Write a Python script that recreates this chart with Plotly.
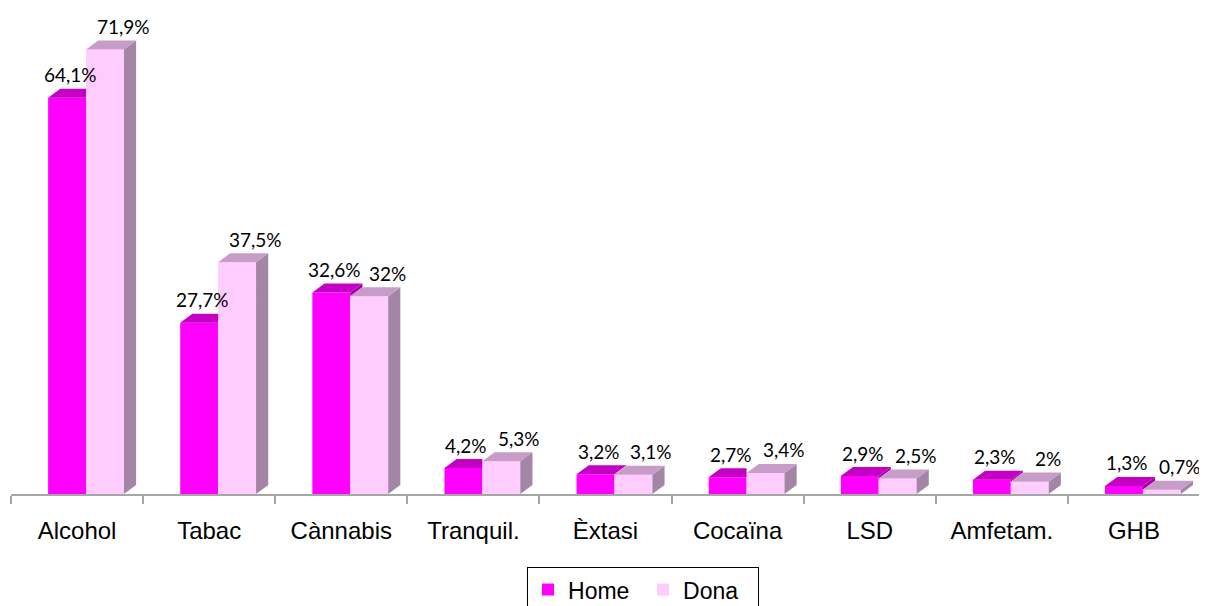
import plotly.graph_objects as go

categories = ["Alcohol", "Tabac", "Cànnabis", "Tranquil.", "Èxtasi", "Cocaïna", "LSD", "Amfetam.", "GHB"]
home = [64.1, 27.7, 32.6, 4.2, 3.2, 2.7, 2.9, 2.3, 1.3]
dona = [71.9, 37.5, 32.0, 5.3, 3.1, 3.4, 2.5, 2.0, 0.7]
series_names = ["Home", "Dona"]

# style / geometry constants
BAR_W = 0.287
HOME_OFF = -0.219
DONA_OFF = HOME_OFF + BAR_W
DX = 0.092   # pseudo-3D depth (category units)
DY = 1.46    # pseudo-3D depth (value units)

HOME_FRONT, HOME_TOP, HOME_SIDE = "#FF00FF", "#C400C4", "#A800A8"
DONA_FRONT, DONA_TOP, DONA_SIDE = "#FFCCFF", "#C89CC8", "#A585A5"

xs = list(range(len(categories)))


def fmt(v):
    return f"{v:g}".replace(".", ",") + "%"


# pseudo-3D faces, derived from the data (Home faces are partly hidden by Dona)
htx, hty, hsx, hsy = [], [], [], []
dtx, dty, dsx, dsy = [], [], [], []
for i, h, d in zip(xs, home, dona):
    x0 = i + HOME_OFF
    x1 = x0 + BAR_W
    x2 = x1 + BAR_W
    if d >= h:
        htx += [x0, x1, x1, x0 + DX, x0, None]
        hty += [h, h, h + DY, h + DY, h, None]
    else:
        htx += [x0, x1, x1 + DX, x0 + DX, x0, None]
        hty += [h, h, h + DY, h + DY, h, None]
        hsx += [x1, x1 + DX, x1 + DX, x1, x1, None]
        hsy += [d, d + DY, h + DY, h, d, None]
    dtx += [x1, x2, x2 + DX, x1 + DX, x1, None]
    dty += [d, d, d + DY, d + DY, d, None]
    dsx += [x2, x2 + DX, x2 + DX, x2, x2, None]
    dsy += [0, DY, d + DY, d, 0, None]

fig = go.Figure()

fig.add_trace(go.Bar(x=xs, y=home, name=series_names[0], width=BAR_W, offset=HOME_OFF,
                     marker=dict(color=HOME_FRONT, line=dict(width=0)), hoverinfo="skip"))
fig.add_trace(go.Bar(x=xs, y=dona, name=series_names[1], width=BAR_W, offset=DONA_OFF,
                     marker=dict(color=DONA_FRONT, line=dict(width=0)), hoverinfo="skip"))

for px, py, col in [(hsx, hsy, HOME_SIDE), (htx, hty, HOME_TOP),
                    (dsx, dsy, DONA_SIDE), (dtx, dty, DONA_TOP)]:
    if px:
        fig.add_trace(go.Scatter(x=px, y=py, mode="lines", fill="toself", fillcolor=col,
                                 line=dict(width=0, color=col), showlegend=False,
                                 hoverinfo="skip"))

annotations = []
for vals, off, xsh in [(home, HOME_OFF, 3), (dona, DONA_OFF, 18)]:
    for i, v in zip(xs, vals):
        annotations.append(dict(x=i + off + BAR_W / 2, y=v, text=fmt(v), showarrow=False,
                                xanchor="center", yanchor="middle", xshift=xsh, yshift=23,
                                font=dict(family="Lato", size=19, color="black")))

# page body has an 8px margin: figure is sized so it ends at the window edge
fig.update_layout(
    width=1199, height=598,
    margin=dict(l=3, r=7, t=2, b=112, autoexpand=False),
    paper_bgcolor="white", plot_bgcolor="white",
    barmode="overlay",
    showlegend=True,
    legend=dict(orientation="h", x=0.434, y=-0.151, xanchor="left", yanchor="top",
                bordercolor="black", borderwidth=1,
                font=dict(family="Liberation Sans", size=23, color="black"),
                itemwidth=30, traceorder="normal", entrywidth=70),
    annotations=annotations,
    xaxis=dict(range=[-0.5, len(categories) - 0.5], tickvals=xs, ticktext=categories,
               ticks="", showgrid=False, zeroline=False, showline=True,
               linecolor="#A6A6A6", linewidth=2, ticklabelstandoff=14,
               tickfont=dict(family="Liberation Sans", size=24, color="black"),
               minor=dict(tickvals=[i - 0.5 for i in range(len(categories) + 1)],
                          ticks="outside", ticklen=8, tickcolor="#A6A6A6", tickwidth=2)),
    yaxis=dict(range=[0, 78.3], visible=False),
)

fig.write_html("out.html")
